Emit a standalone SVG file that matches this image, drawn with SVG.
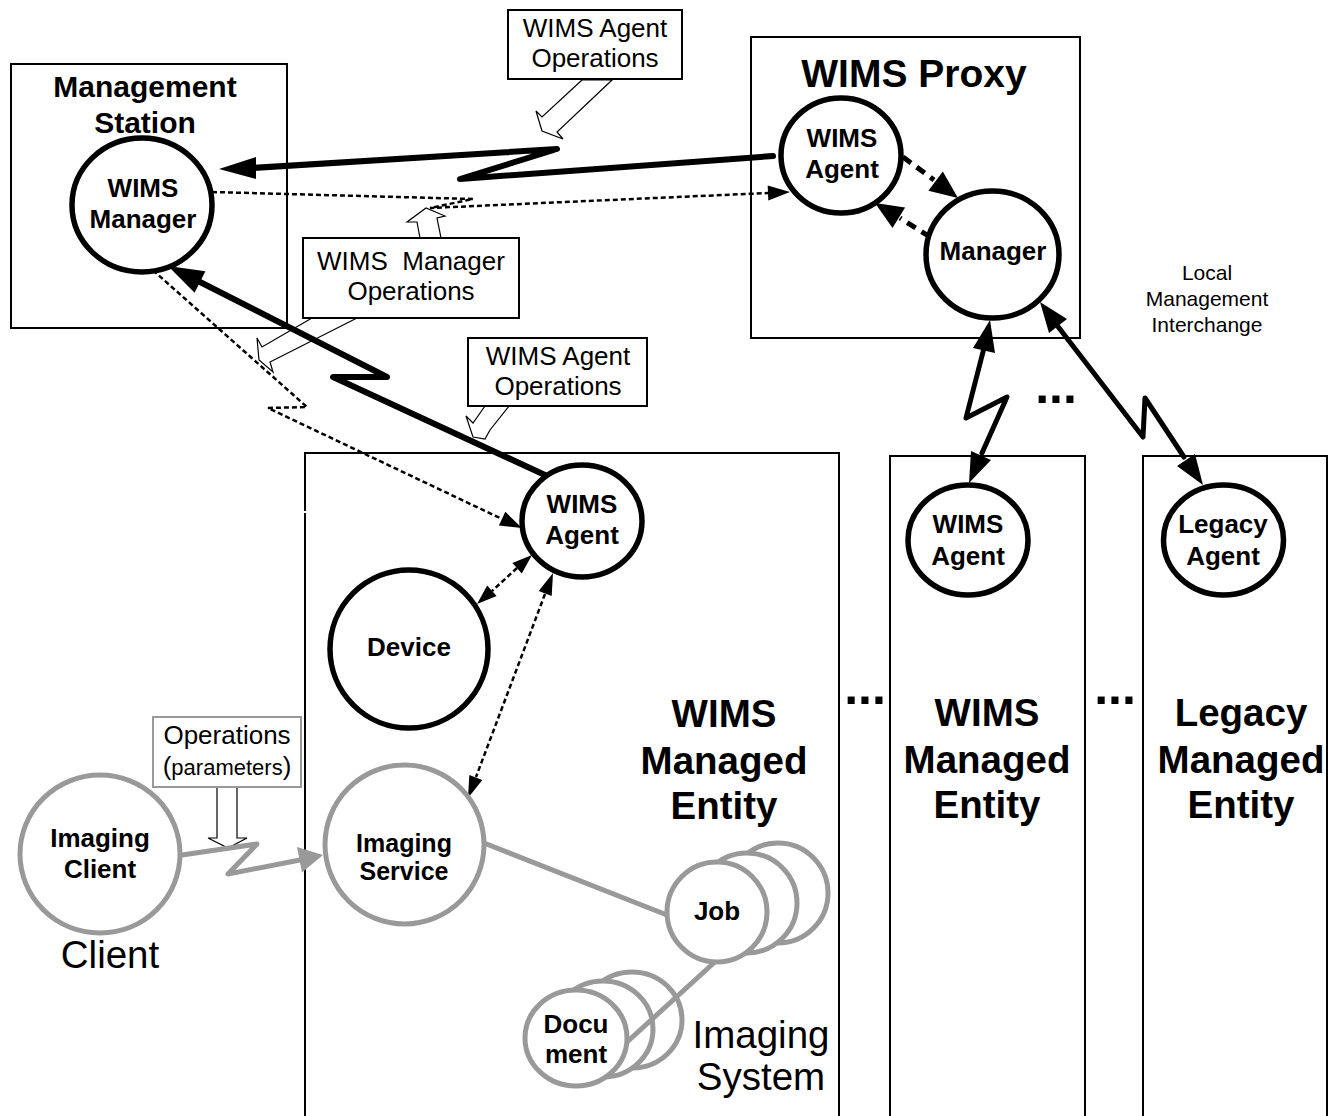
<svg xmlns="http://www.w3.org/2000/svg" width="1334" height="1116" viewBox="0 0 1334 1116">
<style>
.box{fill:none;stroke:#000;stroke-width:2}
.lbl{fill:#fff;stroke:#000;stroke-width:2}
.glbl{fill:#fff;stroke:#999;stroke-width:2}
.node{fill:#fff;stroke:#000;stroke-width:5.5}
.gnode{fill:#fff;stroke:#999;stroke-width:5}
.b{font-family:"Liberation Sans",Arial,sans-serif;font-weight:bold;text-anchor:middle;fill:#000}
.r{font-family:"Liberation Sans",Arial,sans-serif;text-anchor:middle;fill:#000}
.thick{fill:none;stroke:#000;stroke-width:6;stroke-linejoin:round;stroke-linecap:round}
.med{fill:none;stroke:#000;stroke-width:5;stroke-linejoin:round;stroke-linecap:round}
.dash{fill:none;stroke:#000;stroke-width:5;stroke-dasharray:10 7}
.dot{fill:none;stroke:#000;stroke-width:2.5;stroke-dasharray:5 3}
.grey{fill:none;stroke:#999;stroke-width:5;stroke-linejoin:round;stroke-linecap:round}
.blk{fill:#fff;stroke:#000;stroke-width:1.2}
.head{fill:#000;stroke:none}
.ghead{fill:#999;stroke:none}
</style>

<!-- containers -->
<g id="wims-managed-entity-1">
<path class="box" d="M305,1120 V453 H839 V1120"/>
<line x1="299" y1="512" x2="307" y2="512" stroke="#fff" stroke-width="2"/>
<text class="b" font-size="38.5" x="724" y="727">WIMS</text>
<text class="b" font-size="38.5" x="724" y="774">Managed</text>
<text class="b" font-size="38.5" x="724" y="819">Entity</text>
</g>
<g id="wims-managed-entity-2">
<path class="box" d="M890,1120 V456 H1085 V1120"/>
<text class="b" font-size="38.5" x="987" y="726">WIMS</text>
<text class="b" font-size="38.5" x="987" y="773">Managed</text>
<text class="b" font-size="38.5" x="987" y="818">Entity</text>
</g>
<g id="legacy-managed-entity">
<path class="box" d="M1143,1120 V456 H1327 V1120"/>
<text class="b" font-size="38.5" x="1241" y="726">Legacy</text>
<text class="b" font-size="38.5" x="1241" y="773">Managed</text>
<text class="b" font-size="38.5" x="1241" y="818">Entity</text>
</g>
<g id="management-station">
<rect class="box" x="11" y="64" width="276" height="264"/>
<text class="b" font-size="30" x="145" y="97">Management</text>
<text class="b" font-size="30" x="145" y="133">Station</text>
</g>
<g id="wims-proxy">
<rect class="box" x="751" y="37" width="329" height="301"/>
<text class="b" font-size="39" x="914" y="87">WIMS Proxy</text>
</g>

<!-- dots -->
<g id="ellipses">
<text class="b" font-size="50" x="1056" y="403">...</text>
<text class="b" font-size="50" x="865" y="704">...</text>
<text class="b" font-size="50" x="1115" y="704">...</text>
</g>

<g id="local-management-interchange">
<text class="r" font-size="21" x="1207" y="280">Local</text>
<text class="r" font-size="21" x="1207" y="306">Management</text>
<text class="r" font-size="21" x="1207" y="332">Interchange</text>
</g>

<!-- label boxes with block arrows -->
<g id="label-agent-ops-top">
<polygon class="blk" points="582,80 542,117 536,111 542,131 563,139 557,132 612,80"/>
<rect class="lbl" x="508" y="10" width="174" height="69"/>
<text class="r" font-size="26" x="595" y="37">WIMS Agent</text>
<text class="r" font-size="26" x="595" y="67">Operations</text>
</g>
<g id="label-manager-ops">
<polygon class="blk" points="420,238 417,222 407,222 426,208 445,216 437,218 441,238"/>
<polygon class="blk" points="312,318 262,347 257,338 259,360 273,372 270,362 357,318"/>
<rect class="lbl" x="303" y="238" width="216" height="80"/>
<text class="r" font-size="26" x="411" y="270" xml:space="preserve">WIMS  Manager</text>
<text class="r" font-size="26" x="411" y="300">Operations</text>
</g>
<g id="label-agent-ops-low">
<polygon class="blk" points="485,406 473,423 466,416 473,437 485,439 490,430 509,406"/>
<rect class="lbl" x="468" y="338" width="179" height="68"/>
<text class="r" font-size="26" x="558" y="365">WIMS Agent</text>
<text class="r" font-size="26" x="558" y="395">Operations</text>
</g>
<g id="label-client-ops">
<polygon class="blk" points="217,787 217,838 208,838 228,848 247,838 237,838 237,787"/>
<rect class="glbl" x="153" y="717" width="148" height="70"/>
<text class="r" font-size="26" x="227" y="744">Operations</text>
<text class="r" x="227" y="775"><tspan font-size="26">(</tspan><tspan font-size="22">parameters</tspan><tspan font-size="26">)</tspan></text>
</g>

<!-- connectors -->
<g id="connectors">
<polyline class="thick" points="773,156 460,179 557,149 252,168"/>
<polygon class="head" points="219,169 256,157 256,179"/>
<polyline class="thick" points="545,475 333,377 387,377 200,282"/>
<polygon class="head" points="168,266 194.6,292.7 205.4,271.3"/>
<polyline class="dot" points="212,192 473,199 430,208 768,193"/>
<polygon class="head" points="790,192 767.7,185.5 768.3,200.5"/>
<polyline class="dot" points="147,265 307,407 268,408 502,519"/>
<polygon class="head" points="522,528 498.9,525.4 505.3,511.8"/>
<line class="dot" x1="517" y1="568" x2="492" y2="591"/>
<polygon class="head" points="532,555 521.8,573.5 512.4,563.1"/>
<polygon class="head" points="477,604 496.6,595.9 487.2,585.5"/>
<line class="dot" x1="545" y1="594" x2="476" y2="777"/>
<polygon class="head" points="553,573 551.7,596.1 538.7,591.1"/>
<polygon class="head" points="468,798 482.3,779.9 469.3,774.9"/>
<line class="dash" x1="903" y1="157" x2="934" y2="180"/>
<polygon class="head" points="958,198 928.4,190.8 942.8,171.6"/>
<line class="dash" x1="930" y1="237" x2="900" y2="218"/>
<polygon class="head" points="875,203 905.1,207.5 892.5,227.9"/>
<polyline class="med" points="984,348 966,418 1007,397 982,453"/>
<polygon class="head" points="990,320 973,348 995,353"/>
<polygon class="head" points="969,483 971,451 991,460"/>
<polyline class="med" points="1056,324 1143,437 1145,398 1184,457"/>
<polygon class="head" points="1040,302 1067,319 1049,333"/>
<polygon class="head" points="1203,485 1195,454 1177,466"/>
<polyline class="grey" points="182,855 257,844 228,874 300,860"/>
<polygon class="ghead" points="323,855 302,872.4 297,847"/>
<line class="grey" x1="484" y1="843" x2="667" y2="915"/>
</g>

<!-- nodes -->
<g id="wims-manager">
<ellipse class="node" cx="142" cy="205" rx="70" ry="67"/>
<text class="b" font-size="26" x="143" y="197">WIMS</text>
<text class="b" font-size="26" x="143" y="228">Manager</text>
</g>
<g id="proxy-wims-agent">
<ellipse class="node" cx="841" cy="155.5" rx="60" ry="57.5"/>
<text class="b" font-size="26" x="842" y="147">WIMS</text>
<text class="b" font-size="26" x="842" y="178">Agent</text>
</g>
<g id="proxy-manager">
<ellipse class="node" cx="992.5" cy="254.5" rx="66.5" ry="63.5"/>
<text class="b" font-size="26" x="993" y="260">Manager</text>
</g>
<g id="entity-wims-agent">
<ellipse class="node" cx="582" cy="521" rx="60" ry="56"/>
<text class="b" font-size="26" x="582" y="513">WIMS</text>
<text class="b" font-size="26" x="582" y="544">Agent</text>
</g>
<g id="device">
<ellipse class="node" cx="409" cy="649" rx="79" ry="79"/>
<text class="b" font-size="26" x="409" y="656">Device</text>
</g>
<g id="entity2-wims-agent">
<ellipse class="node" cx="968" cy="540" rx="60" ry="55"/>
<text class="b" font-size="26" x="968" y="533">WIMS</text>
<text class="b" font-size="26" x="968" y="565">Agent</text>
</g>
<g id="legacy-agent">
<ellipse class="node" cx="1223.5" cy="540" rx="60" ry="55"/>
<text class="b" font-size="26" x="1223" y="533">Legacy</text>
<text class="b" font-size="26" x="1223" y="565">Agent</text>
</g>
<g id="imaging-client">
<ellipse class="gnode" cx="100" cy="854" rx="80" ry="79"/>
<text class="b" font-size="26" x="100" y="847">Imaging</text>
<text class="b" font-size="26" x="100" y="878">Client</text>
<text class="r" font-size="38.5" x="110" y="968">Client</text>
</g>
<g id="imaging-service">
<ellipse class="gnode" cx="404.5" cy="844.5" rx="79.5" ry="79.5"/>
<text class="b" font-size="25" x="404" y="852">Imaging</text>
<text class="b" font-size="25" x="404" y="880">Service</text>
</g>
<g id="document">
<ellipse class="gnode" cx="632" cy="1020" rx="50" ry="48"/>
<ellipse class="gnode" cx="603" cy="1029" rx="50" ry="48"/>
<line class="grey" x1="717" y1="960" x2="627" y2="1042"/>
<ellipse class="gnode" cx="576" cy="1038" rx="51" ry="48"/>
<text class="b" font-size="26" x="576" y="1033">Docu</text>
<text class="b" font-size="26" x="576" y="1063">ment</text>
</g>
<g id="job">
<ellipse class="gnode" cx="778" cy="893" rx="50" ry="50"/>
<ellipse class="gnode" cx="747" cy="903" rx="50" ry="50"/>
<ellipse class="gnode" cx="717" cy="912" rx="50" ry="50"/>
<text class="b" font-size="26" x="717" y="920">Job</text>
</g>
<g id="imaging-system-label">
<text class="r" font-size="38.5" x="761" y="1048">Imaging</text>
<text class="r" font-size="38.5" x="761" y="1090">System</text>
</g>
</svg>
